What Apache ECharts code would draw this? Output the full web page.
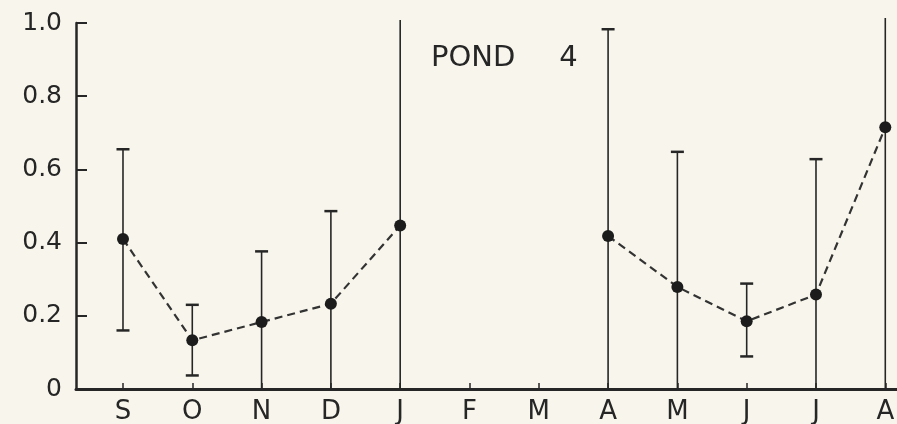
<!DOCTYPE html>
<html>
<head>
<meta charset="utf-8">
<script src="https://cdn.jsdelivr.net/npm/echarts@6/dist/echarts.min.js"></script>
<style>
  html, body { margin: 0; padding: 0; background: #f8f6ec; }
  #chart { width: 897px; height: 424px; }
</style>
</head>
<body>
<div id="chart"></div>
<script>
// Months from September to the following August
const months = ['S', 'O', 'N', 'D', 'J', 'F', 'M', 'A', 'M', 'J', 'J', 'A'];
// Monthly mean (null = no sample)
const meanValues = [0.41, 0.133, 0.183, 0.233, 0.447, null, null, 0.418, 0.279, 0.185, 0.258, 0.715];
// Lower and upper limits of the range bars
const lowValues  = [0.16, 0.037, 0, 0, 0, null, null, 0, 0, 0.089, 0, 0];
const highValues = [0.655, 0.23, 0.376, 0.486, 1.008, null, null, 0.983, 0.648, 0.288, 0.628, 1.014];
const yTicks = [0, 0.2, 0.4, 0.6, 0.8, 1.0];

const ink = '#262626';
const font = 'DejaVu Sans';

const monthIdx = months.map((m, i) => i);
const lineData = meanValues.map((v, i) => [i, v]);
const barData = [];
months.forEach((m, i) => {
  if (meanValues[i] !== null) barData.push([i, lowValues[i], highValues[i]]);
});

const chart = echarts.init(document.getElementById('chart'), null, { renderer: 'canvas' });

chart.setOption({
  backgroundColor: '#f8f6ec',
  animation: false,
  title: {
    text: '{p|POND}{n|4}',
    left: 426,
    top: 39,
    textStyle: {
      fontWeight: 'normal',
      rich: {
        p: { fontFamily: font, fontSize: 29, fontWeight: 'normal', color: ink },
        n: { fontFamily: font, fontSize: 29, fontWeight: 'normal', color: ink, padding: [0, 0, 0, 44] }
      }
    }
  },
  grid: { left: 76, right: 0, top: 23, bottom: 35, containLabel: false, outerBoundsMode: 'none' },
  xAxis: {
    type: 'value',
    min: -0.678,
    max: 11.169,
    axisLine: { show: true, onZero: false, lineStyle: { color: ink, width: 3 } },
    axisTick: { show: true, inside: true, length: 6, customValues: monthIdx, lineStyle: { color: ink, width: 1.5 } },
    axisLabel: {
      customValues: monthIdx,
      formatter: v => months[Math.round(v)],
      fontFamily: font, fontSize: 26, color: ink, margin: 10
    },
    splitLine: { show: false }
  },
  yAxis: {
    type: 'value',
    min: 0,
    max: 1,
    interval: 0.2,
    axisLine: { show: true, onZero: false, lineStyle: { color: ink, width: 2.5 } },
    axisTick: { show: true, inside: true, length: 11, lineStyle: { color: ink, width: 2 } },
    axisLabel: {
      customValues: yTicks,
      formatter: v => (v === 0 ? '0' : v.toFixed(1)),
      fontFamily: font, fontSize: 25, color: ink, margin: 14
    },
    splitLine: { show: false }
  },
  series: [
    {
      // range bars with end caps (no cap where the bar runs to the axis or off the top)
      type: 'custom',
      z: 1,
      clip: false,
      data: barData,
      encode: { x: 0, y: [1, 2] },
      renderItem: function (params, api) {
        const x = api.value(0), lo = api.value(1), hi = api.value(2);
        const p0 = api.coord([x, lo]);
        const p1 = api.coord([x, hi]);
        const style = { stroke: ink, lineWidth: 1.6 };
        const children = [{ type: 'line', shape: { x1: p0[0], y1: p0[1], x2: p1[0], y2: p1[1] }, style: style }];
        const half = 6.5;
        if (lo > 0) children.push({ type: 'line', shape: { x1: p0[0] - half, y1: p0[1], x2: p0[0] + half, y2: p0[1] }, style: { stroke: ink, lineWidth: 2.5 } });
        if (hi <= 1) children.push({ type: 'line', shape: { x1: p1[0] - half, y1: p1[1], x2: p1[0] + half, y2: p1[1] }, style: { stroke: ink, lineWidth: 2.5 } });
        return { type: 'group', children: children };
      }
    },
    {
      type: 'line',
      z: 3,
      data: lineData,
      connectNulls: false,
      symbol: 'circle',
      symbolSize: 12,
      itemStyle: { color: '#1c1c1c' },
      lineStyle: { color: '#333', width: 2.2, type: [8, 5] }
    }
  ]
});
</script>
</body>
</html>
